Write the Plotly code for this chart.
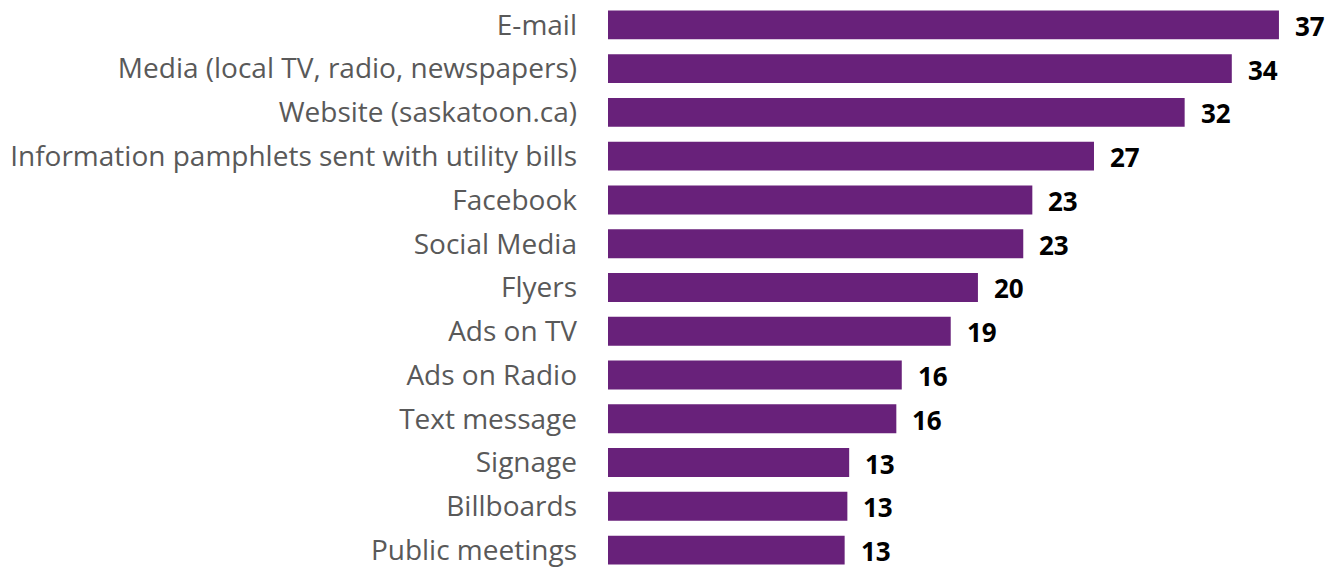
import plotly.graph_objects as go

categories = ["E-mail", "Media (local TV, radio, newspapers)", "Website (saskatoon.ca)",
              "Information pamphlets sent with utility bills", "Facebook", "Social Media",
              "Flyers", "Ads on TV", "Ads on Radio", "Text message", "Signage",
              "Billboards", "Public meetings"]
values = [37.0, 34.4, 31.8, 26.8, 23.4, 22.9, 20.4, 18.9, 16.2, 15.9, 13.3, 13.2, 13.05]
labels = ["37", "34", "32", "27", "23", "23", "20", "19", "16", "16", "13", "13", "13"]

BAR = "#68217A"

fig = go.Figure(go.Bar(
    x=values, y=categories, orientation="h",
    marker=dict(color=BAR, line=dict(width=0)),
    hoverinfo="skip",
))

annotations = [
    dict(x=v, y=c, xref="x", yref="y", text="<b>%s</b>" % t, showarrow=False,
         xanchor="left", yanchor="middle", xshift=14, yshift=-1,
         font=dict(family="Open Sans", size=26, color="#000000"))
    for v, c, t in zip(values, categories, labels)
]

fig.update_layout(
    width=1329, height=568,
    margin=dict(l=608, r=0, t=0, b=0, pad=0),
    paper_bgcolor="white", plot_bgcolor="white",
    bargap=0.34,
    showlegend=False,
    hovermode=False,
    annotations=annotations,
    xaxis=dict(range=[0, 39.76], visible=False, fixedrange=True),
    yaxis=dict(type="category", categoryorder="array", categoryarray=categories,
               range=[12.341, -0.568], showgrid=False, zeroline=False, showline=False,
               ticks="", ticklabelstandoff=30, fixedrange=True,
               tickfont=dict(family="Open Sans", size=28, color="#595959")),
)

fig.write_html("out.html",
               config={"displayModeBar": False, "staticPlot": True},
               post_script="document.body.style.margin='0';document.body.style.overflow='hidden';")
